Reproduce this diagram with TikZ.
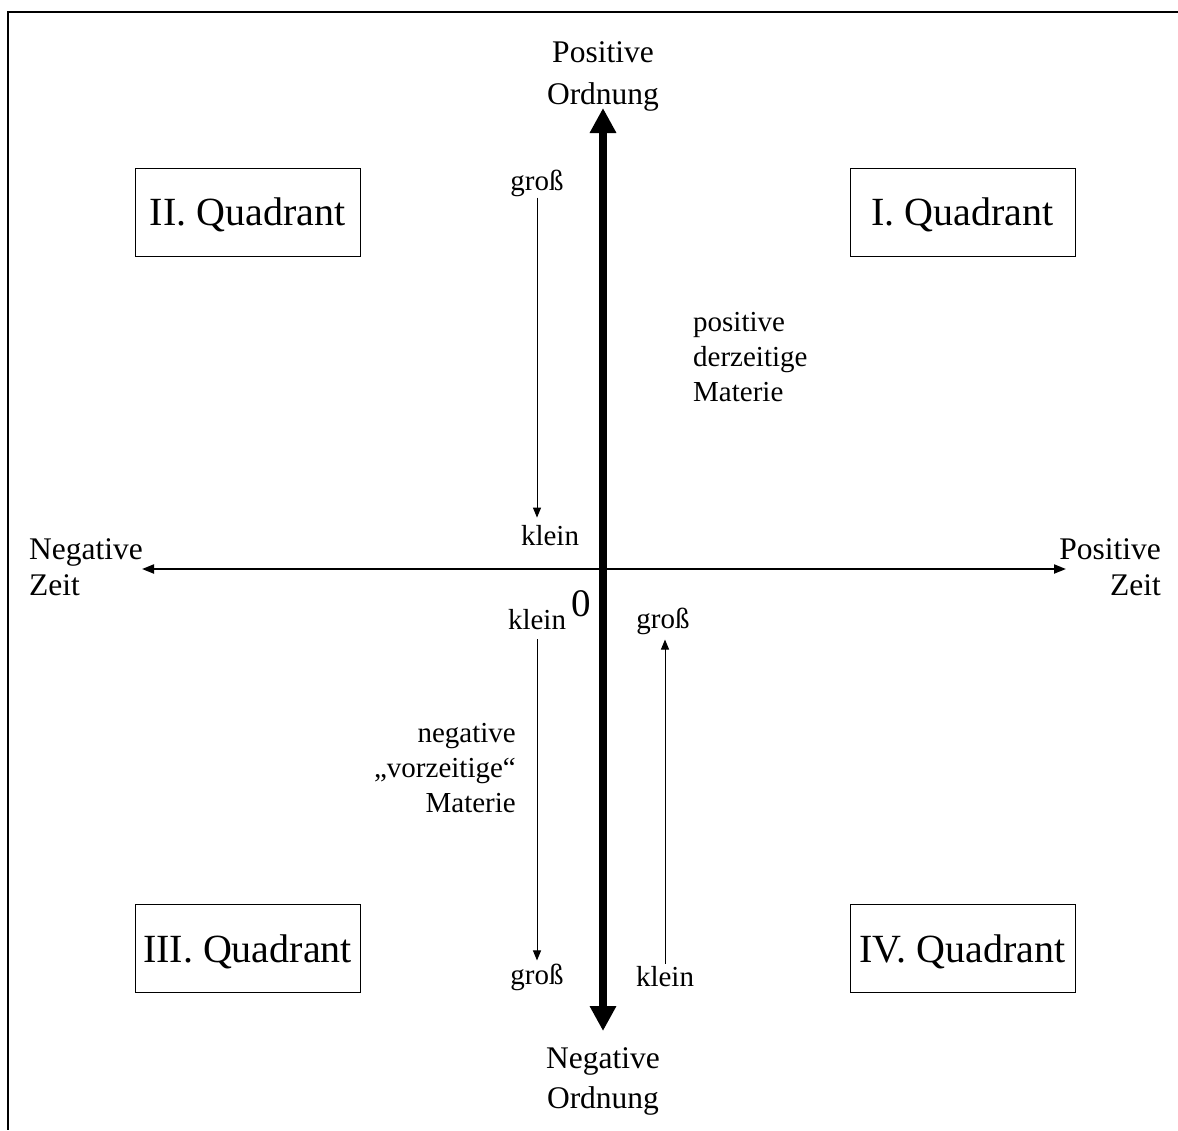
\documentclass[tikz,border=0pt]{standalone}
\usepackage{fontspec}
\setmainfont{Liberation Serif}
\usetikzlibrary{arrows.meta}

\begin{document}
\begin{tikzpicture}[x=1pt,y=-1pt,
    quadbox/.style={draw, line width=1pt, minimum width=225pt, minimum height=88pt, text depth=0pt, font=\fontsize{40}{44}\selectfont},
    axislabel/.style={font=\fontsize{31.5}{36}\selectfont, inner sep=0pt},
    smalltext/.style={font=\fontsize{29}{35}\selectfont, inner sep=0pt},
    thinarrow/.style={line width=1pt, -{Triangle[length=10pt,width=8pt]}}]
    \useasboundingbox (0,0) rectangle (1178,1130);
    \draw[line width=2.5pt] (1178,12) -- (8,12) -- (8,1130);

    \node[quadbox] (q2) at (247.5,212) {II. Quadrant};
    \node[quadbox] (q1) at (962.5,212) {I. Quadrant};
    \node[quadbox] (q3) at (247.5,948.5) {III. Quadrant};
    \node[quadbox] (q4) at (962.5,948.5) {IV. Quadrant};

    \coordinate (otop) at (603,108);
    \coordinate (obot) at (603,1031);
    \coordinate (tleft) at (142,569);
    \coordinate (tright) at (1066,569);
    \draw[line width=2pt, {Triangle[length=12pt,width=9pt]}-{Triangle[length=12pt,width=9pt]}] (tleft) -- (tright);
    \draw[line width=8pt, {Triangle[length=25pt,width=25pt]}-{Triangle[length=25pt,width=25pt]}] (obot) -- (otop);

    \node[axislabel, align=center, font=\fontsize{31.5}{42}\selectfont] (posord) at (603,76) {Positive\\Ordnung};
    \node[axislabel, align=center, font=\fontsize{31.5}{40}\selectfont] (negord) at (603,1081) {Negative\\Ordnung};
    \node[axislabel, align=left, anchor=west] (negzeit) at (29,567) {Negative\\Zeit};
    \node[axislabel, align=right, anchor=east] (poszeit) at (1161,567) {Positive\\Zeit};
    \node[font=\fontsize{39}{40}\selectfont, inner sep=0pt] (null) at (581,604) {0};

    \node[smalltext, align=left, anchor=west] (posmat) at (693,357) {positive\\derzeitige\\Materie};
    \node[smalltext, align=right, anchor=east] (negmat) at (516,768) {negative\\„vorzeitige“\\Materie};

    \node[smalltext] (grossA) at (537,183) {groß};
    \node[smalltext] (kleinA) at (550,536) {klein};
    \node[smalltext] (kleinB) at (537,620) {klein};
    \node[smalltext] (grossB) at (537,977) {groß};
    \node[smalltext] (grossC) at (663,621) {groß};
    \node[smalltext] (kleinC) at (665,977) {klein};

    \draw[thinarrow, shorten <=1pt, shorten >=8pt] (grossA.south) -- (grossA.south |- kleinA.north);
    \draw[thinarrow, shorten <=9pt, shorten >=3pt] (kleinB.south) -- (kleinB.south |- grossB.north);
    \draw[thinarrow, shorten <=3pt, shorten >=5pt] (kleinC.north) -- (kleinC.north |- grossC.south);
\end{tikzpicture}
\end{document}
